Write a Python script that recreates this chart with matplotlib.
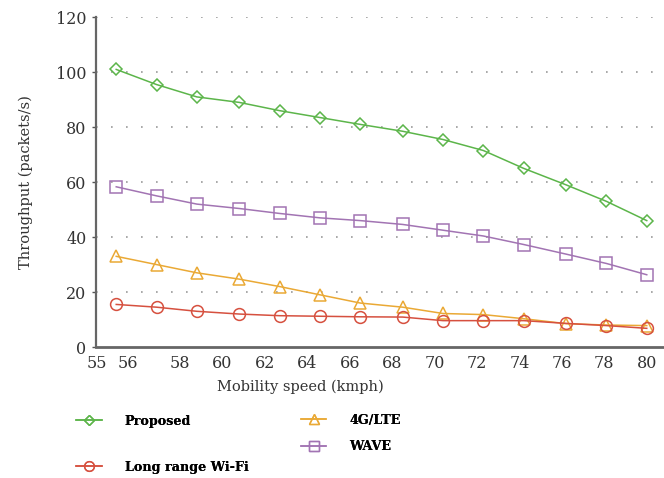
import numpy as np
import matplotlib
matplotlib.use("Agg")
import matplotlib.pyplot as plt
from matplotlib.lines import Line2D

# mobility speed (kmph) of each sample point
speed = [55, 56.9, 58.8, 60.8, 62.7, 64.6, 66.5, 68.5, 70.4, 72.3, 74.2, 76.2, 78.1, 80]

proposed = [101, 95.5, 91, 89, 86, 83.5, 81, 78.5, 75.5, 71.5, 65, 59, 53, 46]
wave = [58.3, 55, 52, 50.4, 48.6, 47, 46, 44.6, 42.5, 40.4, 37.3, 33.8, 30.4, 26.3]
lte = [33, 30, 27, 24.7, 22, 19, 16, 14.5, 12.2, 11.8, 10.3, 8.5, 8, 7.8]
wifi = [15.5, 14.5, 13, 12, 11.4, 11.2, 11, 10.9, 9.6, 9.6, 9.6, 8.6, 7.8, 6.8]

xtick_pos = [54.1, 55.55, 58, 60, 62, 64, 66, 68, 70, 72, 74, 76, 78, 80]
xtick_labels = ["55", "56", "58", "60", "62", "64", "66", "68", "70", "72", "74", "76", "78", "80"]

green = "#5cb54a"
purple = "#a274b3"
orange = "#eaa935"
red = "#d6503f"

serif = "DejaVu Serif"

fig = plt.figure(figsize=(6.64, 4.78), dpi=100)
ax = fig.add_axes([0.145, 0.274, 0.853, 0.690])

ax.plot(speed, proposed, color=green, marker="D", ms=6.5, mfc="none", mew=1.1, lw=1.1)
ax.plot(speed, wave, color=purple, marker="s", ms=8.5, mfc="none", mew=1.1, lw=1.1)
ax.plot(speed, lte, color=orange, marker="^", ms=9, mfc="none", mew=1.1, lw=1.1)
ax.plot(speed, wifi, color=red, marker="o", ms=8.5, mfc="none", mew=1.1, lw=1.1)

ax.set_xlim(54.06, 80.75)
ax.set_ylim(0, 120)
ax.set_yticks(np.arange(0, 121, 20))
ax.set_xticks(xtick_pos)
ax.set_xticklabels(xtick_labels)

for y in range(20, 121, 20):
    ax.axhline(y, color="#9a9a9a", lw=1.2, ls=(0, (1, 8)), zorder=0)

for s in ["top", "right"]:
    ax.spines[s].set_visible(False)
ax.spines["left"].set_color("#666666")
ax.spines["left"].set_linewidth(1.6)
ax.spines["bottom"].set_color("#666666")
ax.spines["bottom"].set_linewidth(2)

ax.tick_params(axis="y", length=3, width=1, color="#555555", labelsize=11.5,
               labelcolor="#333333", pad=4)
ax.tick_params(axis="x", length=0, labelsize=11.5, labelcolor="#333333", pad=6)
for lbl in ax.get_xticklabels() + ax.get_yticklabels():
    lbl.set_family(serif)

ax.set_xlabel("Mobility speed (kmph)", family=serif, fontsize=10.5, color="#333333")
ax.set_ylabel("Throughput (packets/s)", family=serif, fontsize=10.5, color="#333333")
ax.xaxis.set_label_coords(0.36, -0.121)
ax.yaxis.set_label_coords(-0.125, 0.5)
ax.xaxis.label.set_va("center")
ax.yaxis.label.set_va("center")

# legend entries scattered below the axes, as in the source figure
entries = [
    ("Proposed", green, "D", 5, 0.115, 0.119),
    ("Long range Wi-Fi", red, "o", 7, 0.115, 0.023),
    ("4G/LTE", orange, "^", 7, 0.453, 0.121),
    ("WAVE", purple, "s", 6.5, 0.453, 0.065),
]
for name, col, mk, size, lx, ly in entries:
    h = Line2D([], [], color=col, marker=mk, ms=size, mfc="none", mew=1.0, lw=1.1)
    leg = fig.legend([h], [name], loc="center left", bbox_to_anchor=(lx, ly),
                     frameon=False, handlelength=2.0, handletextpad=1.8,
                     borderaxespad=0, borderpad=0,
                     prop={"family": serif, "weight": "bold", "size": 9.2})
    fig.add_artist(leg)

fig.savefig("out.png", dpi=100)
